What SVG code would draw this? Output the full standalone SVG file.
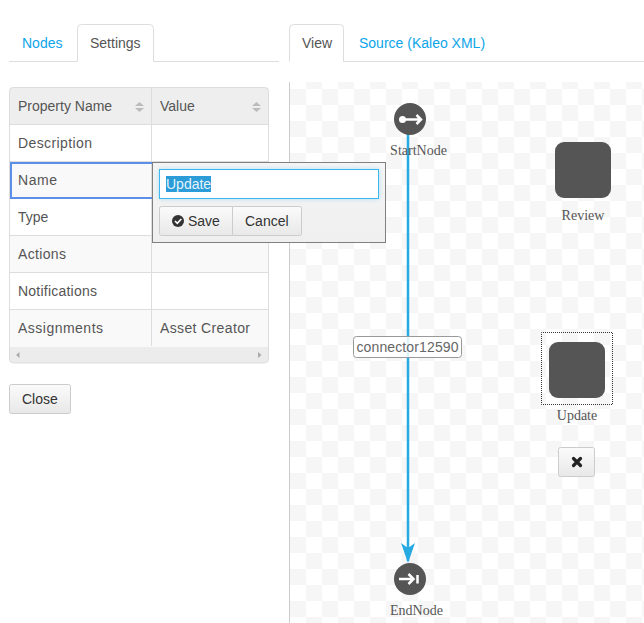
<svg xmlns="http://www.w3.org/2000/svg" width="644" height="623" viewBox="0 0 644 623">
<defs>
<pattern id="chk" x="290" y="73" width="32" height="32" patternUnits="userSpaceOnUse"><rect x="16" y="0" width="16" height="16" fill="#f6f6f6"/><rect x="0" y="16" width="16" height="16" fill="#f6f6f6"/></pattern>
<linearGradient id="btn" x1="0" y1="0" x2="0" y2="1"><stop offset="0" stop-color="#fbfbfb"/><stop offset="1" stop-color="#e8e8e8"/></linearGradient>
<linearGradient id="pop" x1="0" y1="0" x2="0" y2="1"><stop offset="0" stop-color="#f5f5f5"/><stop offset="1" stop-color="#efefef"/></linearGradient>
<filter id="glow" x="-5%" y="-30%" width="110%" height="160%"><feGaussianBlur stdDeviation="2.5"/></filter>
<marker id="arrow" markerUnits="userSpaceOnUse" markerWidth="21" markerHeight="14" refX="18" refY="7" orient="auto"><path d="M0 0L20 7L0 14L5 7Z" fill="#27a9e1"/></marker>
</defs>
<style>
text{font-family:"Liberation Sans",Arial,sans-serif;font-size:14px;fill:#555}
.link{fill:#0ea5e9}
.serif{font-family:"Liberation Serif","Times New Roman",serif;font-size:14px;fill:#555;text-anchor:middle}
.grid{stroke:#ddd;stroke-width:1;fill:none}
.btn{fill:url(#btn);stroke:#ccc;stroke-width:1}
.dark{fill:#333}
.node{fill:#555}
.ic{stroke:#fff;stroke-width:2.500;fill:none}
</style>
<rect width="644" height="623" fill="#fff"/>
<g id="left-tabs">
<path class="grid" d="M9 61.500H77.500V28.500a4 4 0 0 1 4-4H149.500a4 4 0 0 1 4 4V61.500H279"/>
<text class="link" x="22" y="48">Nodes</text>
<text x="90" y="48">Settings</text>
</g>
<g id="right-tabs">
<path class="grid" d="M289.500 61.500V28.500a4 4 0 0 1 4-4H339.500a4 4 0 0 1 4 4V61.500H644"/>
<text x="302" y="48">View</text>
<text class="link" x="359" y="48">Source (Kaleo XML)</text>
</g>
<g id="property-table">
<path d="M9 91a4 4 0 0 1 4-4H265a4 4 0 0 1 4 4V125H9Z" fill="#eee"/>
<rect x="10" y="162" width="258" height="37" fill="#f9f9f9"/>
<rect x="10" y="236" width="258" height="37" fill="#f9f9f9"/>
<rect x="10" y="310" width="258" height="37" fill="#f9f9f9"/>
<path d="M9.500 347H268.500V359a4 4 0 0 1-4 4H13.500a4 4 0 0 1-4-4Z" fill="#ececec"/>
<path class="grid" d="M9.500 124.500H268.500M9.500 161.500H268.500M9.500 198.500H268.500M9.500 235.500H268.500M9.500 272.500H268.500M9.500 309.500H268.500M151.500 87.500V346"/>
<rect class="grid" x="9.500" y="87.500" width="259" height="275.500" rx="4"/>
<path d="M135 106l4.500-4 4.500 4ZM135 108l4.500 4 4.500-4Z" fill="#bbb"/>
<path d="M252 106l4.500-4 4.500 4ZM252 108l4.500 4 4.500-4Z" fill="#bbb"/>
<path d="M16 355l3.500-3v6ZM258 352l3.500 3-3.500 3Z" fill="#aaa"/>
<text x="18" y="111">Property Name</text>
<text x="160" y="111">Value</text>
<text x="18" y="148" textLength="74">Description</text>
<text x="18" y="185" textLength="39">Name</text>
<text x="18" y="222">Type</text>
<text x="18" y="259" textLength="48">Actions</text>
<text x="18" y="296" textLength="79">Notifications</text>
<text x="18" y="333" textLength="85">Assignments</text>
<text x="160" y="333" textLength="90">Asset Creator</text>
<rect x="11" y="163" width="142" height="35" fill="none" stroke="#5b8fe8" stroke-width="2"/>
</g>
<g id="close-button">
<rect class="btn" x="9.500" y="384.500" width="61" height="29" rx="2"/>
<text x="22" y="404" style="fill:#333">Close</text>
</g>
<g id="canvas">
<rect x="290" y="82" width="354" height="541" fill="url(#chk)"/>
<path d="M289.500 82V623" stroke="#ccc" stroke-width="1" fill="none"/>
</g>
<g id="connectors">
<path d="M408 133V561" stroke="#27a9e1" stroke-width="2.500" fill="none" marker-end="url(#arrow)"/>
</g>
<g id="connector-label">
<rect x="353.500" y="336.500" width="108" height="21" rx="3" fill="#fff" fill-opacity="0.85" stroke="#999"/>
<text x="356.500" y="352" style="fill:#666" textLength="102">connector12590</text>
</g>
<g id="StartNode">
<circle cx="410" cy="119" r="16" class="node"/>
<circle cx="402.500" cy="119.500" r="3.500" fill="#fff"/>
<path class="ic" d="M405 119.500H421M416.500 115l4.500 4.500-4.500 4.500"/>
<text class="serif" x="418.500" y="155">StartNode</text>
</g>
<g id="Review">
<rect x="555" y="142" width="56" height="56" rx="9" class="node"/>
<text class="serif" x="583" y="220">Review</text>
</g>
<g id="Update">
<rect x="541.500" y="332.500" width="71" height="72" fill="none" stroke="#333" stroke-dasharray="1 1" stroke-dashoffset="0.500"/>
<rect x="549" y="342" width="56" height="56" rx="9" class="node"/>
<text class="serif" x="577" y="420">Update</text>
</g>
<g id="delete-button">
<rect class="btn" x="558.500" y="447.500" width="36" height="29" rx="2"/>
<path d="M573.500 458.500l7 7M580.500 458.500l-7 7" stroke="#222" stroke-width="3.200" stroke-linecap="round" fill="none"/>
</g>
<g id="EndNode">
<circle cx="410" cy="579" r="16" class="node"/>
<path class="ic" d="M399 579H413.500M408.500 574l5 5-5 5"/>
<path d="M417.500 575V583.500" stroke="#fff" stroke-width="2.500" fill="none"/>
<text class="serif" x="416.500" y="615">EndNode</text>
</g>
<g id="edit-popover">
<rect x="152.500" y="162.500" width="233" height="80" fill="url(#pop)" stroke="#808080"/>
<rect x="159.500" y="169.500" width="219" height="29" fill="#3cb8f0" opacity="0.45" filter="url(#glow)"/>
<rect x="159.500" y="169.500" width="219" height="29" fill="#fff" stroke="#3cb8f0"/>
<rect x="166" y="176" width="45" height="16" fill="#2b9cd8"/>
<text x="166" y="189" style="fill:#fff;fill-opacity:.9">Update</text>
<path class="btn" d="M161.500 206.500H232.500V235.500H161.500a2 2 0 0 1-2-2V208.500a2 2 0 0 1 2-2Z"/>
<path class="btn" d="M232.500 206.500H299.500a2 2 0 0 1 2 2V233.500a2 2 0 0 1-2 2H232.500Z"/>
<circle cx="178" cy="221" r="6" class="dark"/>
<path d="M175 221l2.300 2.300 4-4.300" stroke="#fff" stroke-width="1.700" fill="none"/>
<text x="188" y="226" style="fill:#333">Save</text>
<text x="245" y="226" style="fill:#333">Cancel</text>
</g>
</svg>
